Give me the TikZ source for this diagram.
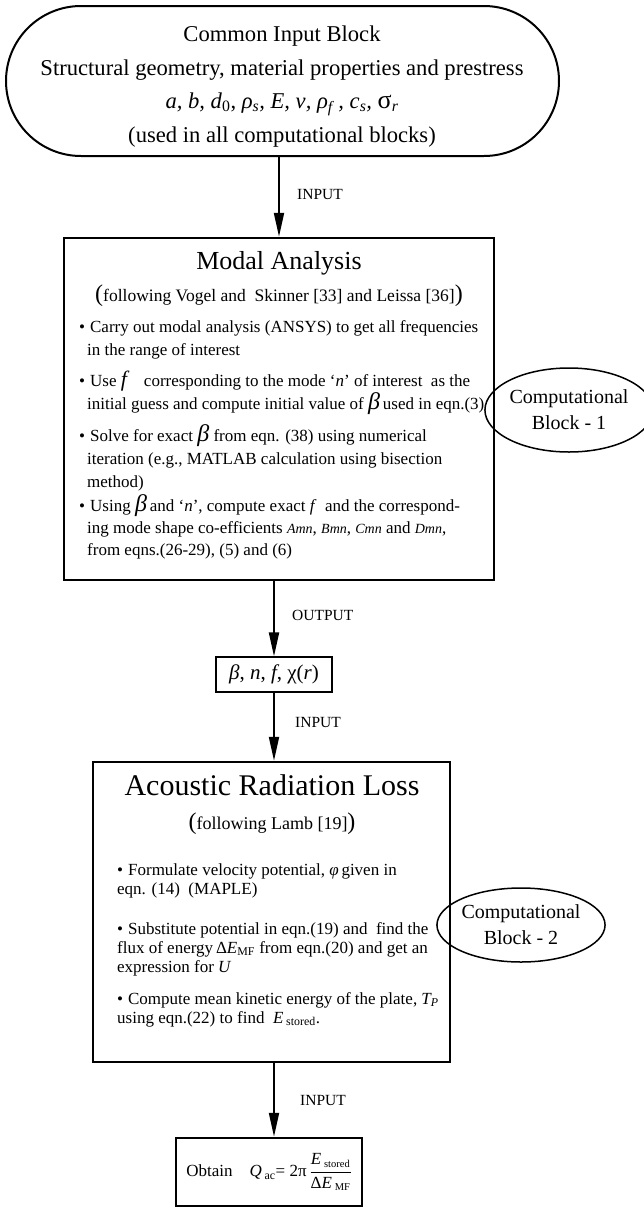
\documentclass[tikz,border=0pt]{standalone}
\usepackage{fontspec}
\setmainfont{Liberation Serif}
\usetikzlibrary{arrows.meta,shapes.geometric,shapes.misc}
\newcommand\bigf{{\fontsize{22}{22}\selectfont\itshape f}}
\newcommand\bigb{{\fontsize{24}{24}\selectfont\itshape β}}
\newcommand\smi[1]{{\fontsize{14}{14}\selectfont\itshape #1}}
\begin{document}
\begin{tikzpicture}[x=1pt,y=-1pt,
  txt/.style={inner sep=0pt, anchor=base west, font=\fontsize{17}{20}\selectfont},
  ctr/.style={inner sep=0pt, anchor=base},
  lbl/.style={inner sep=0pt, anchor=base west, font=\fontsize{15.5}{18}\selectfont},
  blk/.style={draw, line width=2.5pt, inner sep=0pt},
  arr/.style={line width=2pt, -{Triangle[length=24pt,width=10pt]}},
  comp/.style={draw, ellipse, line width=1.5pt, inner sep=0pt, align=center, font=\fontsize{20}{26}\selectfont}]
\useasboundingbox (0,0) rectangle (644,1211);

% Common input block
\node[draw, rounded rectangle, rounded rectangle arc length=180, line width=2pt,
      minimum width=553pt, minimum height=150pt, inner sep=0pt] (inp) at (282.5,81) {};
\node[ctr, font=\fontsize{22.6}{26}\selectfont] (inpA) at (282,41) {Common Input Block};
\node[ctr, font=\fontsize{22.6}{26}\selectfont] (inpB) at (282,75) {Structural geometry, material properties and prestress};
\node[ctr, font=\fontsize{22.6}{26}\selectfont] (inpC) at (282,108)
  {\textit{a, b, d}\textsubscript{0}, \textit{ρ\textsubscript{s}, E, ν, ρ\textsubscript{f} , c\textsubscript{s},} {\fontsize{26}{26}\selectfont σ}\textsubscript{\textit{r}}};
\node[ctr, font=\fontsize{22.6}{26}\selectfont] (inpD) at (282,142) {(used in all computational blocks)};

% Modal analysis
\node[blk, minimum width=430pt, minimum height=342pt] (modal) at (279,409) {};
\node[ctr, font=\fontsize{26}{30}\selectfont] (modT) at (279,269) {Modal Analysis};
\node[ctr, font=\fontsize{17.5}{20}\selectfont] (modS) at (279,301)
  {{\fontsize{24}{24}\selectfont(}following Vogel and\ \ Skinner [33] and Leissa [36]{\fontsize{24}{24}\selectfont)}};
\node[txt] (m1a) at (79,332) {\textbullet\hspace{5pt}Carry out modal analysis (ANSYS) to get all frequencies};
\node[txt] (m1b) at (87,355) {in the range of interest};
\node[txt] (m2a) at (79,386) {\textbullet\hspace{5pt}Use \bigf\quad corresponding to the mode ‘\textit{n}’ of interest\ \ as the};
\node[txt] (m2b) at (87,409) {initial guess and compute initial value of \bigb\,used in eqn.(3)};
\node[txt] (m3a) at (79,441) {\textbullet\hspace{5pt}Solve for exact \bigb\ from eqn. (38) using numerical};
\node[txt] (m3b) at (87,464) {iteration (e.g., MATLAB calculation using bisection};
\node[txt] (m3c) at (87,487) {method)};
\node[txt] (m4a) at (79,511) {\textbullet\hspace{5pt}Using \bigb\,and ‘\textit{n}’, compute exact \textit{f}\ \ and the correspond-};
\node[txt] (m4b) at (87,533) {ing mode shape co-efficients \smi{Amn}, \smi{Bmn}, \smi{Cmn} and \smi{Dmn},};
\node[txt] (m4c) at (87,555) {from eqns.(26-29), (5) and (6)};

\node[comp, minimum width=148pt, minimum height=84pt] (cb1) at (569,410) {Computational\\Block - 1};

% beta box
\node[draw, line width=1.2pt, minimum width=116pt, minimum height=35pt, inner sep=0pt,
      font=\fontsize{21}{24}\selectfont] (beta) at (274,674.5)
  {\textit{β}, \textit{n}, \textit{f}, χ(\textit{r})};

% Acoustic radiation loss
\node[blk, minimum width=357pt, minimum height=300pt] (acou) at (271.5,912) {};
\node[ctr, font=\fontsize{30}{34}\selectfont] (acT) at (272,795) {Acoustic Radiation Loss};
\node[ctr, font=\fontsize{18}{20}\selectfont] (acS) at (272,829)
  {{\fontsize{24}{24}\selectfont(}following Lamb [19]{\fontsize{24}{24}\selectfont)}};
\node[txt] (a1a) at (117,875) {\textbullet\hspace{5pt}Formulate velocity potential, \textit{φ}\,given in};
\node[txt] (a1b) at (117,894) {eqn. (14)\ \ (MAPLE)};
\node[txt] (a2a) at (117,934) {\textbullet\hspace{5pt}Substitute potential in eqn.(19) and\ \ find the};
\node[txt] (a2b) at (117,953) {flux of energy\,Δ\textit{E}\textsubscript{MF} from eqn.(20) and get an};
\node[txt] (a2c) at (117,972) {expression for \textit{U}};
\node[txt] (a3a) at (117,1004) {\textbullet\hspace{5pt}Compute mean kinetic energy of the plate, \textit{T\textsubscript{P}}};
\node[txt] (a3b) at (117,1023) {using eqn.(22) to find\ \ \textit{E}\,\textsubscript{stored}.};

\node[comp, minimum width=138pt, minimum height=74pt] (cb2) at (521,925) {Computational\\Block - 2};

% Final box
\node[blk, minimum width=186pt, minimum height=68pt, font=\fontsize{17}{20}\selectfont] (obt) at (269,1172)
  {Obtain\quad\textit{Q}\,\textsubscript{ac}= 2π\,$\displaystyle{\hbox{\textit{E}\,{\fontsize{15}{15}\selectfont\textsubscript{stored}}}\above 1pt\hbox{Δ\textit{E}\,{\fontsize{15}{15}\selectfont\textsubscript{MF}}}}$};

% connectors
\draw[arr] (modal.north |- inp.south) -- (modal.north);
\draw[arr] (modal.south -| beta.north) -- (beta.north);
\draw[arr] (beta.south) -- (beta.south |- acou.north);
\draw[arr] (acou.south -| beta.south) -- (obt.north -| beta.south);

% connector labels
\node[lbl] (l1) at (297,199) {INPUT};
\node[lbl] (l2) at (292,620) {OUTPUT};
\node[lbl] (l3) at (295,727) {INPUT};
\node[lbl] (l4) at (300,1105) {INPUT};
\end{tikzpicture}
\end{document}
